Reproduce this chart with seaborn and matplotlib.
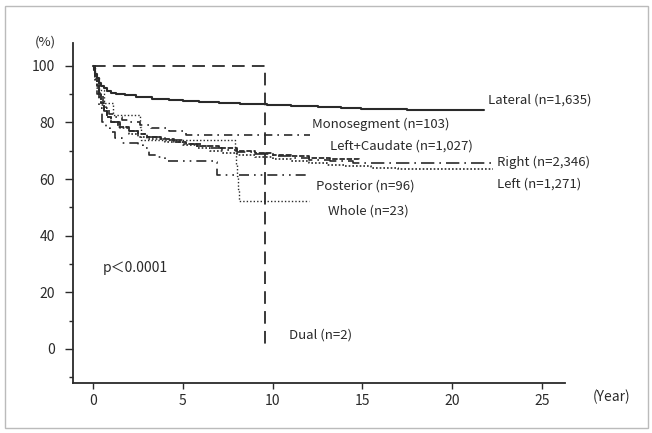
import matplotlib
matplotlib.use('Agg')
import matplotlib.pyplot as plt
import matplotlib.patches as mpatches
from matplotlib.ticker import MultipleLocator
import pandas as pd
import seaborn as sns

# survival curves: (year, % surviving), step after each point
lateral_t = [0, 0.05, 0.1, 0.2, 0.3, 0.45, 0.6, 0.8, 1.0, 1.3, 1.8, 2.4, 3.3, 4.2,
             5.0, 5.9, 7.0, 8.2, 9.7, 11.0, 12.5, 13.8, 14.9, 16.2, 17.5, 19.0, 21.8]
lateral_s = [100, 98.5, 97, 95.5, 94, 93, 92, 91.2, 90.5, 90, 89.7, 89, 88.3, 87.8,
             87.5, 87.3, 86.8, 86.5, 86.2, 85.8, 85.3, 85.0, 84.8, 84.6, 84.5, 84.4, 84.4]

mono_t = [0, 0.1, 0.2, 0.3, 0.4, 0.55, 0.7, 0.9, 1.2, 1.6, 2.0, 2.6, 3.2, 4.2, 5.2, 12.1]
mono_s = [100, 97, 95, 92, 90, 87, 85, 83, 82, 81, 80, 79, 78, 77, 75.6, 75.6]

lc_t = [0, 0.1, 0.2, 0.3, 0.45, 0.6, 0.8, 1.0, 1.4, 2.0, 2.5, 3.0, 3.8, 4.5, 5.2, 6.0,
        7.0, 8.0, 9.0, 10.0, 11.0, 12.0, 13.2, 14.8]
lc_s = [100, 96, 93, 90, 87, 84, 82, 80, 78.5, 77, 76, 75, 74, 73, 72.2, 71.5,
        70.8, 70, 69.2, 68.5, 68, 67.5, 67, 66.5]

right_t = [0, 0.1, 0.2, 0.3, 0.45, 0.6, 0.8, 1.0, 1.5, 2.0, 2.5, 3.0, 4.0, 5.0, 5.8, 6.5,
           7.2, 8.0, 9.0, 10.0, 11.0, 12.0, 13.2, 14.5, 22.3]
right_s = [100, 96, 93, 90, 87, 84, 82, 80, 78.5, 77, 76, 75, 73.7, 72.5, 71.7, 71,
           70.2, 69.5, 68.7, 68, 67.4, 66.8, 66.2, 65.6, 65.6]

left_t = [0, 0.1, 0.2, 0.3, 0.45, 0.6, 0.8, 1.0, 1.5, 2.0, 2.5, 3.0, 4.0, 5.0, 5.8, 6.5,
          7.2, 8.0, 9.0, 10.0, 11.0, 12.0, 13.0, 14.0, 15.5, 17.0, 22.3]
left_s = [100, 96, 92, 89, 86, 85, 82, 80, 78, 76, 75, 74, 73, 72, 71, 70,
          69.2, 68.5, 67.8, 67, 66.2, 65.5, 65, 64.5, 64, 63.6, 63.6]

post_t = [0, 0.1, 0.2, 0.35, 0.5, 0.7, 0.95, 1.2, 1.6, 2.5, 2.8, 3.1, 3.6, 4.0, 6.7, 6.9, 12.0]
post_s = [100, 95, 90, 85, 80, 78, 76.7, 74.5, 72.8, 72, 71, 68.5, 67.8, 66.5, 66, 61.5, 61.5]

whole_t = [0, 0.1, 0.3, 0.6, 1.1, 2.6, 2.65, 7.9, 7.95, 8.0, 8.05, 8.1, 12.0]
whole_s = [100, 95.7, 91.3, 87.0, 82.6, 78.3, 73.9, 69.6, 65.2, 60.9, 56.5, 52.2, 52.2]

dual_t = [0, 9.6]
dual_s = [100, 0]

year_ticks = [0, 5, 10, 15, 20, 25]
pct_ticks = [0, 20, 40, 60, 80, 100]

curves = [
    ('Lateral (n=1,635)', lateral_t, lateral_s, '', 1.5, (22.0, 87.9)),
    ('Monosegment (n=103)', mono_t, mono_s, (5, 3, 1, 3), 1.2, (12.2, 79.2)),
    ('Left+Caudate (n=1,027)', lc_t, lc_s, (3, 1), 1.3, (13.2, 71.8)),
    ('Right (n=2,346)', right_t, right_s, (8, 3, 1, 3), 1.2, (22.5, 65.8)),
    ('Left (n=1,271)', left_t, left_s, (1, 1.2), 1.2, (22.5, 58.4)),
    ('Posterior (n=96)', post_t, post_s, (6, 3, 1, 3, 1, 3), 1.2, (12.4, 57.6)),
    ('Whole (n=23)', whole_t, whole_s, (1, 1.5), 1.0, (13.1, 48.8)),
    ('Dual (n=2)', dual_t, dual_s, (7, 4), 1.3, (10.9, 5.0)),
]

sns.set_theme(style='ticks')
plt.rcParams['font.family'] = ['Noto Sans CJK JP', 'DejaVu Sans']
ink = '#2a2a2a'

fig = plt.figure(figsize=(6.52, 4.33), dpi=100)
ax = fig.add_axes([0.112, 0.1155, 0.755, 0.785])

for name, t, s, dash, lw, (lx, ly) in curves:
    df = pd.DataFrame({'year': t, 'surv': s})
    sns.lineplot(data=df, x='year', y='surv', ax=ax, color=ink, linewidth=lw,
                 drawstyle='steps-post', estimator=None)
    l = ax.lines[-1]
    if dash:
        l.set_dashes(dash)
    ax.text(lx, ly, name, fontsize=9.5, color=ink, ha='left', va='center')

ax.text(0.56, 28.6, 'p＜0.0001', fontsize=10, color=ink, ha='left', va='center')

ax.set_xlim(-1.12, 26.3)
ax.set_ylim(-12, 108)
ax.set_xticks(year_ticks)
ax.set_yticks(pct_ticks)
ax.yaxis.set_minor_locator(MultipleLocator(10))
ax.set_xlabel('')
ax.set_ylabel('')
ax.tick_params(axis='x', direction='out', length=4, width=1, pad=4, labelsize=10, colors=ink)
ax.tick_params(axis='y', which='major', direction='out', length=6, width=1, pad=7,
               labelsize=10, colors=ink)
ax.tick_params(axis='y', which='minor', direction='out', length=3, width=1, colors=ink)
sns.despine(ax=ax)
for sp in ['left', 'bottom']:
    ax.spines[sp].set_color(ink)
    ax.spines[sp].set_linewidth(1.3)

fig.text(45 / 652, 1 - 42 / 433, '(%)', fontsize=9.5, color=ink, ha='center', va='center')
fig.text(612 / 652, 1 - 397 / 433, '(Year)', fontsize=10, color=ink, ha='center', va='center')

fig.patches.append(mpatches.Rectangle((0.008, 0.012), 0.986, 0.975, transform=fig.transFigure,
                                      fill=False, edgecolor='#bbbbbb', linewidth=1))

fig.savefig('out.png', dpi=100)
